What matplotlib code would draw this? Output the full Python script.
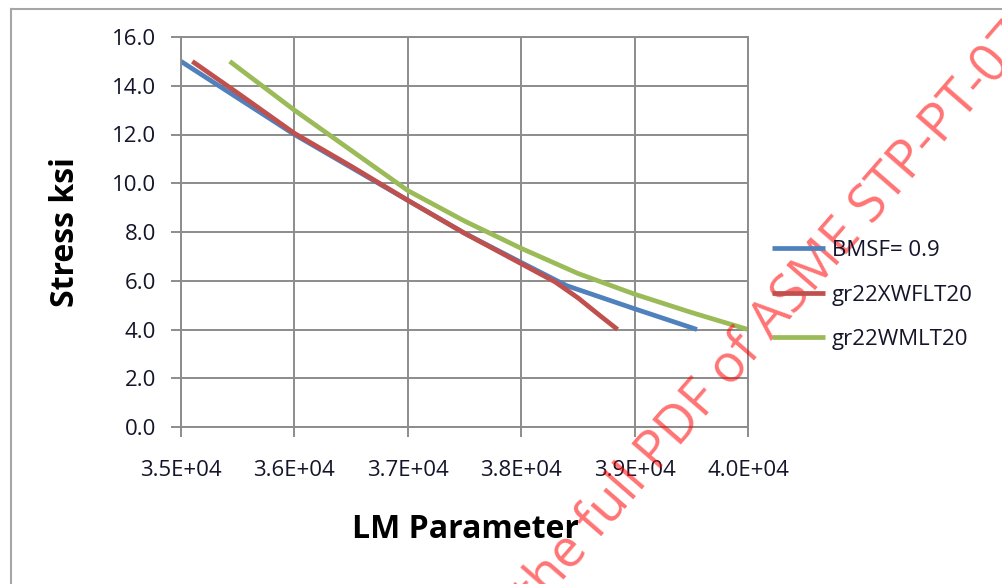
import matplotlib
matplotlib.use('Agg')
import matplotlib.pyplot as plt
from matplotlib.lines import Line2D

# 数据：估计值
bmsf_x = [35000, 35500, 36000, 36500, 37000, 37500, 38000, 38400, 39000, 39550]
bmsf_y = [15.0, 13.5, 12.0, 10.65, 9.3, 7.95, 6.75, 5.8, 4.85, 4.0]

xwflt_x = [35100, 35500, 36000, 36500, 37000, 37500, 38000, 38300, 38500, 38700, 38850]
xwflt_y = [15.0, 13.7, 12.05, 10.7, 9.3, 7.95, 6.7, 5.95, 5.3, 4.55, 4.0]

wmlt_x = [35430, 36000, 36500, 37000, 37500, 38000, 38500, 39000, 39500, 40000]
wmlt_y = [15.0, 13.0, 11.35, 9.7, 8.45, 7.33, 6.3, 5.45, 4.7, 4.0]

labels = ['BMSF= 0.9', 'gr22XWFLT20', 'gr22WMLT20']
colors = ['#4F81BD', '#C0504D', '#9BBB59']
x_ticks = [35000, 36000, 37000, 38000, 39000, 40000]
x_ticklabels = ['3.5E+04', '3.6E+04', '3.7E+04', '3.8E+04', '3.9E+04', '4.0E+04']
y_ticks = [0, 2, 4, 6, 8, 10, 12, 14, 16]

plt.rcParams['font.family'] = ['Open Sans', 'DejaVu Sans']
grid_c = '#8C8C8C'
text_c = '#14142A'

fig = plt.figure(figsize=(10.02, 5.84), dpi=100)
ax = fig.add_axes([181 / 1002, 1 - 427 / 584, (748 - 181) / 1002, (427 - 37) / 584])

ax.plot(bmsf_x, bmsf_y, color=colors[0], lw=3.4, label=labels[0], solid_capstyle='butt')
ax.plot(xwflt_x, xwflt_y, color=colors[1], lw=3.4, label=labels[1], solid_capstyle='butt')
ax.plot(wmlt_x, wmlt_y, color=colors[2], lw=3.4, label=labels[2], solid_capstyle='butt')

ax.set_xlim(35000, 40000)
ax.set_ylim(0, 16)
ax.set_xticks(x_ticks)
ax.set_xticklabels(x_ticklabels)
ax.set_yticks(y_ticks)
ax.set_yticklabels(['%.1f' % v for v in y_ticks])
ax.grid(True, color=grid_c, lw=1.4)
ax.set_axisbelow(True)
for s in ax.spines.values():
    s.set_color(grid_c)
    s.set_linewidth(1.4)
ax.tick_params(axis='x', direction='out', length=7, width=1.4, color=grid_c, pad=17,
               labelsize=16, labelcolor=text_c)
ax.tick_params(axis='y', direction='out', length=7, width=1.4, color=grid_c, pad=11,
               labelsize=16, labelcolor=text_c)

fig.text(66 / 1002, 1 - 232 / 584, 'Stress ksi', rotation=90, ha='center', va='center',
         fontsize=23, fontweight='bold', color='black')
fig.text(465 / 1002, 1 - 530 / 584, 'LM Parameter', ha='center', va='center',
         fontsize=23, fontweight='bold', color='black')

fig.legend(loc='center left', bbox_to_anchor=(772 / 1002, 1 - 295 / 584), frameon=False,
           fontsize=16, handlelength=2.4, handletextpad=0.3, labelspacing=1.05,
           labelcolor=text_c, borderpad=0, borderaxespad=0)

# 外框（右侧和底部被裁掉）
fig.add_artist(Line2D([11 / 1002, 1.0], [1 - 9 / 584, 1 - 9 / 584], color='#A6A6A6', lw=1.5))
fig.add_artist(Line2D([11 / 1002, 11 / 1002], [0.0, 1 - 9 / 584], color='#A6A6A6', lw=1.5))

# 水印（被图边裁掉）
fig.text(537 / 1002, 1 - 612 / 584, 'the full PDF of ASME STP-PT-07', rotation=49,
         rotation_mode='anchor', ha='left', va='baseline', fontsize=38,
         color='#FF0000', alpha=0.55)

fig.savefig('out.png', dpi=100)
